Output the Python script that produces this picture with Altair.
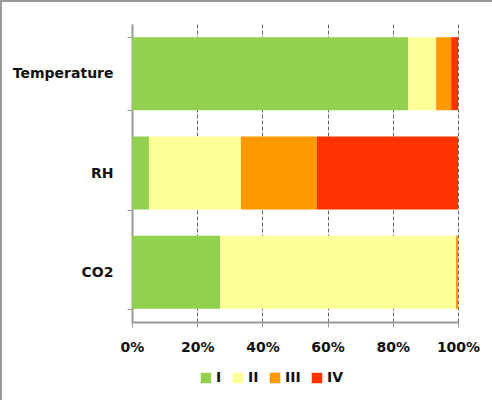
import altair as alt
import pandas as pd

categories = ["Temperature", "RH", "CO2"]
classes = ["I", "II", "III", "IV"]
val_I = [84.7, 5.2, 27.0]
val_II = [8.6, 28.2, 72.4]
val_III = [4.6, 23.3, 0.6]
val_IV = [2.1, 43.3, 0.0]
colors = ["#92D050", "#FFFF99", "#FF9900", "#FF3300"]
x_ticks = [0, 0.2, 0.4, 0.6, 0.8, 1.0]

rows = []
for ci, cat in enumerate(categories):
    for k, (cls, vals) in enumerate(zip(classes, [val_I, val_II, val_III, val_IV])):
        rows.append({"Parameter": cat, "Class": cls, "Order": k, "Value": vals[ci]})
df = pd.DataFrame(rows)

FONT = "DejaVu Sans"
FS = 14

bars = alt.Chart(df).mark_bar(stroke=None).encode(
    y=alt.Y("Parameter:N", sort=categories, title=None,
            scale=alt.Scale(paddingInner=0.265, paddingOuter=0.1325),
            axis=alt.Axis(tickBand="extent", labelFont=FONT, labelFontWeight="bold",
                          labelFontSize=FS, labelColor="#111111", labelPadding=14,
                          tickSize=5, tickColor="#999999", domainColor="#999999",
                          domainWidth=2, grid=False)),
    x=alt.X("Value:Q", stack="normalize", title=None,
            scale=alt.Scale(domain=[0, 1], nice=False),
            axis=alt.Axis(format="%", values=x_ticks, labelFont=FONT, labelFontWeight="bold",
                          labelFontSize=FS, labelColor="#111111", labelPadding=13,
                          tickSize=5, tickColor="#999999", domainColor="#999999",
                          domainWidth=2, grid=True, gridColor="#666666",
                          gridDash=[4, 2], gridWidth=1, labelFlush=False)),
    color=alt.Color("Class:N", sort=classes,
                    scale=alt.Scale(domain=classes, range=colors),
                    legend=alt.Legend(title=None, orient="none", direction="horizontal",
                                      legendX=67, legendY=347, symbolType="square",
                                      symbolSize=110, symbolStrokeWidth=0,
                                      symbolOpacity=1,
                                      labelFont=FONT, labelFontWeight="bold",
                                      labelFontSize=FS, labelColor="#111111",
                                      labelOffset=3, columnPadding=9)),
    order=alt.Order("Order:Q"),
)

frame_v = alt.Chart().mark_rule(color="#999999", strokeWidth=2, clip=False).encode(
    x=alt.value(-131), y=alt.value(-24), y2=alt.value(376))
frame_h = alt.Chart().mark_rule(color="#999999", strokeWidth=2, clip=False).encode(
    x=alt.value(-132), x2=alt.value(360), y=alt.value(-23))

chart = alt.layer(frame_v, frame_h, bars).properties(
    width=326, height=298,
    autosize=alt.AutoSizeParams(type="none"),
    padding={"left": 132, "top": 24, "right": 34, "bottom": 78},
    background="white",
).configure_view(stroke=None)

chart.save("out.html", embed_options={"renderer": "svg", "actions": False})
